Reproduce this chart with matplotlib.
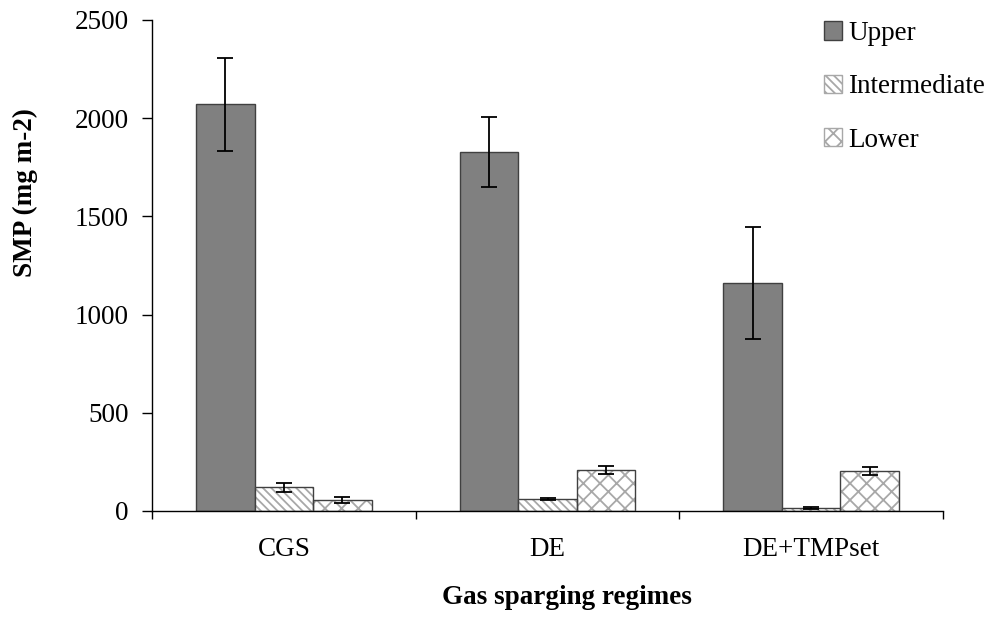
import matplotlib
matplotlib.use("Agg")
import matplotlib.pyplot as plt
from matplotlib.patches import Patch
import numpy as np

# chart values
categories = ["CGS", "DE", "DE+TMPset"]
upper = [2070, 1830, 1160]
upper_err = [238, 178, 285]
intermediate = [122, 61, 15]
intermediate_err = [23, 6, 3]
lower = [55, 210, 205]
lower_err = [15, 20, 20]
yticks = [0, 500, 1000, 1500, 2000, 2500]

plt.rcParams["font.family"] = ["Liberation Serif", "DejaVu Serif"]
plt.rcParams["hatch.linewidth"] = 1.3
fs = 19.5

fig = plt.figure(figsize=(9.88, 6.19), dpi=100)
ax = fig.add_axes([152 / 988, 1 - 511 / 619, (943 - 152) / 988, (511 - 20) / 619])

x = np.arange(len(categories))
w = 0.222
edge = "#404040"
hatch_grey = "#a8a8a8"

# upper: solid grey
ax.bar(x - w, upper, w, color="#808080", edgecolor=edge, linewidth=1.0, zorder=2)
# intermediate: diagonal hatch, hatch layer then outline layer
ax.bar(x, intermediate, w, color="white", edgecolor=hatch_grey, hatch="\\\\\\\\", linewidth=0, zorder=2)
ax.bar(x, intermediate, w, color="none", edgecolor=edge, linewidth=1.0, zorder=3)
# lower: cross hatch
ax.bar(x + w, lower, w, color="white", edgecolor=hatch_grey, hatch="xx", linewidth=0, zorder=2)
ax.bar(x + w, lower, w, color="none", edgecolor=edge, linewidth=1.0, zorder=3)

for off, vals, errs in [(-w, upper, upper_err), (0, intermediate, intermediate_err), (w, lower, lower_err)]:
    ax.errorbar(x + off, vals, yerr=errs, fmt="none", ecolor="black",
                elinewidth=1.3, capsize=6, capthick=1.3, zorder=4)

ax.set_xlim(-0.5, 2.5)
ax.set_ylim(0, 2500)
ax.set_yticks(yticks)
ax.tick_params(axis="y", direction="out", length=7, width=1, labelsize=fs, pad=10)

ax.set_xticks([-0.5, 0.5, 1.5, 2.5])
ax.set_xticklabels([])
ax.tick_params(axis="x", which="major", direction="out", length=6, width=1)
ax.set_xticks(x, minor=True)
ax.set_xticklabels(categories, minor=True)
ax.tick_params(axis="x", which="minor", length=0, labelsize=fs, pad=19)

for s in ["top", "right"]:
    ax.spines[s].set_visible(False)
for s in ["left", "bottom"]:
    ax.spines[s].set_linewidth(1.0)

ax.set_xlabel("Gas sparging regimes", fontsize=fs, fontweight="bold")
ax.xaxis.set_label_coords((567 - 152) / (943 - 152), (511 - 598) / (511 - 20))
ax.set_ylabel("SMP (mg m-2)", fontsize=fs, fontweight="bold")
ax.yaxis.set_label_coords((25 - 152) / (943 - 152), (511 - 193) / (511 - 20))
ax.xaxis.label.set_va("center")
ax.yaxis.label.set_va("center")

handles = [
    Patch(facecolor="#808080", edgecolor=edge, linewidth=1.0),
    Patch(facecolor="white", edgecolor=hatch_grey, hatch="\\\\\\\\", linewidth=1.0),
    Patch(facecolor="white", edgecolor=hatch_grey, hatch="xx", linewidth=1.0),
]
fig.legend(handles, ["Upper", "Intermediate", "Lower"], loc="upper left",
           bbox_to_anchor=(824 / 988, 1 - 21 / 619), frameon=False, fontsize=fs,
           handlelength=0.65, handleheight=0.65, handletextpad=0.25,
           labelspacing=1.05, borderpad=0, borderaxespad=0)

fig.savefig("out.png", dpi=100)
